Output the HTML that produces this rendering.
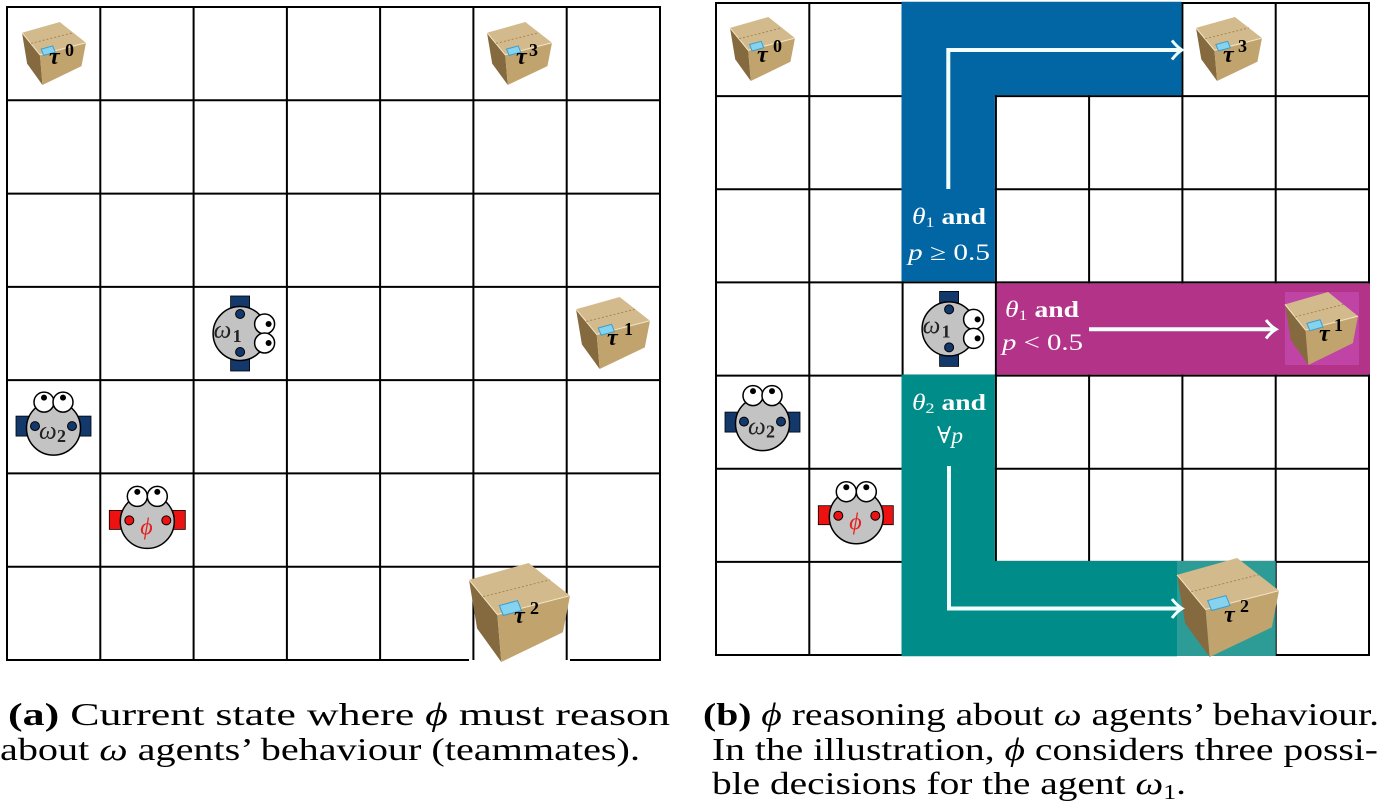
<!DOCTYPE html>
<html><head><meta charset="utf-8"><style>
html,body{margin:0;padding:0;background:#fff;}
svg{display:block;}
text{font-family:"Liberation Serif","DejaVu Serif",serif;}
</style></head><body>
<svg width="1381" height="807" viewBox="0 0 1381 807" xmlns="http://www.w3.org/2000/svg">
<defs>
<g id="box">
<polygon points="0,17 28,52 32,100 8,66" fill="#85693f"/>
<polygon points="28,52 100,33 93,70 32,100" fill="#c1a36e"/>
<polygon points="0,17 59,0 100,33 28,52" fill="#d3ba8c"/>
<polyline points="0,17 28,52 100,33" fill="none" stroke="#f3e6c8" stroke-width="1" vector-effect="non-scaling-stroke"/>
<line x1="14" y1="34" x2="80" y2="17" stroke="#a3865a" stroke-width="1" stroke-dasharray="2 2" vector-effect="non-scaling-stroke"/>
<polygon points="30,43 48,38 52,48 34,53" fill="#86d3ef" stroke="#3b9dcf" stroke-width="1" vector-effect="non-scaling-stroke"/>
</g>
</defs>

<!-- LEFT GRID -->
<path d="M7,7V660 M100.3,7V660 M193.6,7V660 M286.9,7V660 M380.1,7V660 M473.4,7V660 M566.7,7V660 M660,6V661
M6,7H661 M7,100.3H660 M7,193.6H660 M7,286.9H660 M7,380.1H660 M7,473.4H660 M7,566.7H660 M6,660H469 M570,660H661" stroke="#000" stroke-width="2" fill="none"/>

<!-- RIGHT GRID -->
<path d="M716,3V655 M809.3,3V655 M902.6,3V655 M995.9,3V655 M1089.1,3V655 M1182.4,3V655 M1275.7,3V655 M1369,2V656
M715,3H1370 M716,96.1H1369 M716,189.3H1369 M716,282.4H1369 M716,375.6H1369 M716,468.7H1369 M716,561.9H1369 M715,655H1370" stroke="#000" stroke-width="2" fill="none"/>

<!-- colored regions -->
<path d="M901.5,1.8H1181.4V95.1H994.9V281.4H901.5Z" fill="#0266a5"/>
<rect x="997" y="283.4" width="373" height="91.2" fill="#b33388"/>
<path d="M901.5,374.6H994.9V561H1177V656.2H901.5Z" fill="#008c88"/>
<rect x="1177" y="561" width="98.7" height="95" fill="#2e9c96"/>
<rect x="1285" y="292" width="74" height="73" fill="#c044a6"/>

<!-- BOXES -->
<use href="#box" transform="translate(22,22) scale(0.64,0.63)"/>
<use href="#box" transform="translate(487,22) scale(0.65,0.63)"/>
<use href="#box" transform="translate(576,297) scale(0.74,0.72)"/>
<use href="#box" transform="translate(469,563) scale(1.01,0.99)"/>
<use href="#box" transform="translate(730,17) scale(0.65,0.64)"/>
<use href="#box" transform="translate(1196,17) scale(0.66,0.64)"/>
<use href="#box" transform="translate(1285,292) scale(0.73,0.73)"/>
<use href="#box" transform="translate(1177,558) scale(1.02,0.99)"/>

<g fill="#000" font-weight="bold">
<text x="49" y="64" font-size="24" font-style="italic">τ</text><text x="65" y="56" font-size="18">0</text>
<text x="516" y="64" font-size="24" font-style="italic">τ</text><text x="529" y="56" font-size="18">3</text>
<text x="607" y="345" font-size="24" font-style="italic">τ</text><text x="624" y="335" font-size="18">1</text>
<text x="514" y="623" font-size="24" font-style="italic">τ</text><text x="530" y="614" font-size="18">2</text>
<text x="757" y="62" font-size="24" font-style="italic">τ</text><text x="773" y="52" font-size="18">0</text>
<text x="1223" y="62" font-size="24" font-style="italic">τ</text><text x="1238" y="52" font-size="18">3</text>
<text x="1319" y="341" font-size="24" font-style="italic">τ</text><text x="1334" y="331" font-size="18">1</text>
<text x="1224" y="622" font-size="24" font-style="italic">τ</text><text x="1240" y="612" font-size="18">2</text>
</g>

<!-- ROBOTS facing right (omega1) -->
<g transform="translate(193.6,287)">
<rect x="37" y="9" width="19" height="75" fill="#13386b" stroke="#000" stroke-width="0.8"/>
<circle cx="46.5" cy="46.5" r="27" fill="#c3c3c3" stroke="#000" stroke-width="1.5"/>
<circle cx="46.5" cy="27" r="4.5" fill="#13386b" stroke="#000" stroke-width="1"/>
<circle cx="46.5" cy="65" r="4.5" fill="#13386b" stroke="#000" stroke-width="1"/>
<circle cx="71" cy="37" r="10" fill="#fff" stroke="#000" stroke-width="1.5"/>
<circle cx="71" cy="56" r="10" fill="#fff" stroke="#000" stroke-width="1.5"/>
<circle cx="75" cy="37" r="3" fill="#000"/><circle cx="75" cy="56" r="3" fill="#000"/>
<text x="20" y="51" font-size="25" font-style="italic" fill="#222">ω</text><text x="39" y="55" font-size="18" font-weight="bold" fill="#222">1</text>
</g>
<g transform="translate(902.6,282.4)">
<rect x="37" y="9" width="19" height="75" fill="#13386b" stroke="#000" stroke-width="0.8"/>
<circle cx="46.5" cy="46.5" r="27" fill="#c3c3c3" stroke="#000" stroke-width="1.5"/>
<circle cx="46.5" cy="27" r="4.5" fill="#13386b" stroke="#000" stroke-width="1"/>
<circle cx="46.5" cy="65" r="4.5" fill="#13386b" stroke="#000" stroke-width="1"/>
<circle cx="71" cy="37" r="10" fill="#fff" stroke="#000" stroke-width="1.5"/>
<circle cx="71" cy="56" r="10" fill="#fff" stroke="#000" stroke-width="1.5"/>
<circle cx="75" cy="37" r="3" fill="#000"/><circle cx="75" cy="56" r="3" fill="#000"/>
<text x="20" y="51" font-size="25" font-style="italic" fill="#222">ω</text><text x="39" y="55" font-size="18" font-weight="bold" fill="#222">1</text>
</g>

<!-- ROBOTS facing up: omega2 -->
<g transform="translate(7,380.1)">
<rect x="9" y="36" width="75" height="20" fill="#13386b" stroke="#000" stroke-width="0.8"/>
<circle cx="46.5" cy="48" r="27" fill="#c3c3c3" stroke="#000" stroke-width="1.5"/>
<circle cx="28" cy="46" r="4.5" fill="#13386b" stroke="#000" stroke-width="1"/>
<circle cx="65" cy="46" r="4.5" fill="#13386b" stroke="#000" stroke-width="1"/>
<circle cx="37" cy="22" r="10" fill="#fff" stroke="#000" stroke-width="1.5"/>
<circle cx="56" cy="22" r="10" fill="#fff" stroke="#000" stroke-width="1.5"/>
<circle cx="37" cy="17.5" r="3" fill="#000"/><circle cx="56" cy="17.5" r="3" fill="#000"/>
<text x="32" y="59" font-size="25" font-style="italic" fill="#222">ω</text><text x="50" y="62" font-size="18" font-weight="bold" fill="#222">2</text>
</g>
<g transform="translate(716,375.6)">
<rect x="9" y="36.5" width="75" height="20" fill="#13386b" stroke="#000" stroke-width="0.8"/>
<circle cx="46.5" cy="48" r="27" fill="#c3c3c3" stroke="#000" stroke-width="1.5"/>
<circle cx="28" cy="46" r="4.5" fill="#13386b" stroke="#000" stroke-width="1"/>
<circle cx="65" cy="46" r="4.5" fill="#13386b" stroke="#000" stroke-width="1"/>
<circle cx="37" cy="20" r="10" fill="#fff" stroke="#000" stroke-width="1.5"/>
<circle cx="56" cy="20" r="10" fill="#fff" stroke="#000" stroke-width="1.5"/>
<circle cx="37" cy="15.5" r="3" fill="#000"/><circle cx="56" cy="15.5" r="3" fill="#000"/>
<text x="32" y="59" font-size="25" font-style="italic" fill="#222">ω</text><text x="50" y="62" font-size="18" font-weight="bold" fill="#222">2</text>
</g>

<!-- phi robots -->
<g transform="translate(100.3,473.4)">
<rect x="9" y="37" width="76" height="19" fill="#ee1111" stroke="#000" stroke-width="0.8"/>
<circle cx="47" cy="48" r="27" fill="#c3c3c3" stroke="#000" stroke-width="1.5"/>
<circle cx="29" cy="47" r="4.5" fill="#ee1111" stroke="#000" stroke-width="1"/>
<circle cx="66" cy="47" r="4.5" fill="#ee1111" stroke="#000" stroke-width="1"/>
<circle cx="37" cy="23" r="10" fill="#fff" stroke="#000" stroke-width="1.5"/>
<circle cx="57" cy="23" r="10" fill="#fff" stroke="#000" stroke-width="1.5"/>
<circle cx="37" cy="18.5" r="3" fill="#000"/><circle cx="57" cy="18.5" r="3" fill="#000"/>
<text x="40" y="61" font-size="24" font-style="italic" fill="#e52020">ϕ</text>
</g>
<g transform="translate(809.3,468.7)">
<rect x="9" y="37" width="75" height="19" fill="#ee1111" stroke="#000" stroke-width="0.8"/>
<circle cx="47" cy="48" r="27" fill="#c3c3c3" stroke="#000" stroke-width="1.5"/>
<circle cx="29" cy="47" r="4.5" fill="#ee1111" stroke="#000" stroke-width="1"/>
<circle cx="66" cy="47" r="4.5" fill="#ee1111" stroke="#000" stroke-width="1"/>
<circle cx="37" cy="23" r="10" fill="#fff" stroke="#000" stroke-width="1.5"/>
<circle cx="57" cy="23" r="10" fill="#fff" stroke="#000" stroke-width="1.5"/>
<circle cx="37" cy="18.5" r="3" fill="#000"/><circle cx="57" cy="18.5" r="3" fill="#000"/>
<text x="40" y="61" font-size="24" font-style="italic" fill="#e52020">ϕ</text>
</g>

<!-- ARROWS -->
<g fill="none" stroke="#f2ffff" stroke-linecap="butt">
<path d="M948.3,189V50H1180" stroke-width="4"/>
<path d="M1172,40.5Q1177,47 1182,50Q1177,53 1172,59.5" stroke-width="3"/>
<path d="M1089,329.3H1274" stroke-width="4"/>
<path d="M1266,320Q1271,326.5 1276,329.3Q1271,332 1266,338.5" stroke-width="3"/>
<path d="M949,466V608.5H1180" stroke-width="4"/>
<path d="M1172,599Q1177,605.5 1182,608.5Q1177,611.5 1172,618" stroke-width="3"/>
</g>

<!-- LABELS IN REGIONS -->
<g fill="#fff" font-size="23">
<text x="912" y="224" textLength="74" lengthAdjust="spacingAndGlyphs"><tspan font-style="italic">θ</tspan><tspan font-size="15" dy="3">1</tspan><tspan dy="-3" font-weight="bold"> and</tspan></text>
<text x="908" y="260" textLength="82" lengthAdjust="spacingAndGlyphs"><tspan font-style="italic">p</tspan> ≥ 0.5</text>
<text x="1005" y="317" textLength="74" lengthAdjust="spacingAndGlyphs"><tspan font-style="italic">θ</tspan><tspan font-size="15" dy="3">1</tspan><tspan dy="-3" font-weight="bold"> and</tspan></text>
<text x="1002" y="350" textLength="81" lengthAdjust="spacingAndGlyphs"><tspan font-style="italic">p</tspan> &lt; 0.5</text>
<text x="912" y="410" textLength="74" lengthAdjust="spacingAndGlyphs"><tspan font-style="italic">θ</tspan><tspan font-size="15" dy="3">2</tspan><tspan dy="-3" font-weight="bold"> and</tspan></text>
<text x="937" y="443" textLength="26" lengthAdjust="spacingAndGlyphs">∀<tspan font-style="italic">p</tspan></text>
</g>

<!-- CAPTIONS -->
<g fill="#000" font-size="32">
<text x="8" y="725" textLength="662" lengthAdjust="spacingAndGlyphs"><tspan font-weight="bold">(a)</tspan> Current state where <tspan font-style="italic">ϕ</tspan> must reason</text>
<text x="0" y="760" textLength="640" lengthAdjust="spacingAndGlyphs">about <tspan font-style="italic">ω</tspan> agents’ behaviour (teammates).</text>
<text x="703" y="725" textLength="676" lengthAdjust="spacingAndGlyphs"><tspan font-weight="bold">(b)</tspan> <tspan font-style="italic">ϕ</tspan> reasoning about <tspan font-style="italic">ω</tspan> agents’ behaviour.</text>
<text x="712" y="760" textLength="666" lengthAdjust="spacingAndGlyphs">In the illustration, <tspan font-style="italic">ϕ</tspan> considers three possi-</text>
<text x="712" y="794" textLength="474" lengthAdjust="spacingAndGlyphs">ble decisions for the agent <tspan font-style="italic">ω</tspan><tspan font-size="21" dy="5">1</tspan><tspan dy="-5">.</tspan></text>
</g>
</svg>
</body></html>
